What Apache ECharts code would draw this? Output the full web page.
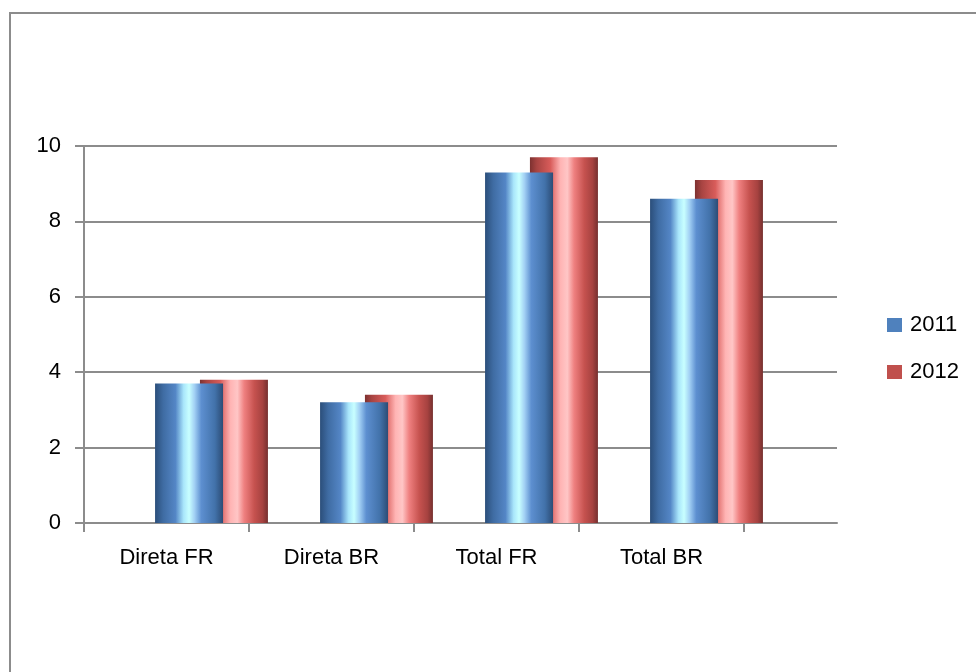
<!DOCTYPE html>
<html>
<head>
<meta charset="utf-8">
<script src="https://cdn.jsdelivr.net/npm/echarts@6/dist/echarts.min.js"></script>
<style>
  html, body { margin: 0; padding: 0; background: #fff; }
  #wrap { position: relative; width: 976px; height: 672px; overflow: hidden; }
  #frame { position: absolute; left: 9px; top: 12px; width: 1000px; height: 700px;
           border-left: 2px solid #8c8c8c; border-top: 2px solid #8c8c8c; }
  #main { position: absolute; left: 0; top: 0; width: 976px; height: 672px; }
</style>
</head>
<body>
<div id="wrap">
  <div id="frame"></div>
  <div id="main"></div>
</div>
<script>
// dados
var categories = ['Direta FR', 'Direta BR', 'Total FR', 'Total BR']
var values2011 = [3.7, 3.2, 9.3, 8.6]
var values2012 = [3.8, 3.4, 9.7, 9.1]
var seriesNames = ['2011', '2012']

var font = 'Liberation Sans'
var lineGray = '#8c8c8c'

// efeito cilindro
var blueFill = new echarts.graphic.LinearGradient(0, 0, 1, 0, [
  { offset: 0, color: '#2b4e7a' },
  { offset: 0.12, color: '#3f6ca3' },
  { offset: 0.3, color: '#5486c6' },
  { offset: 0.42, color: '#a9e6fb' },
  { offset: 0.5, color: '#c8ffff' },
  { offset: 0.58, color: '#a2d0f4' },
  { offset: 0.68, color: '#5d8fd0' },
  { offset: 0.88, color: '#4272aa' },
  { offset: 1, color: '#2c4c75' }
])
var redFill = new echarts.graphic.LinearGradient(0, 0, 1, 0, [
  { offset: 0, color: '#7d3130' },
  { offset: 0.1, color: '#a84442' },
  { offset: 0.3, color: '#d85c5a' },
  { offset: 0.45, color: '#ffb4b4' },
  { offset: 0.55, color: '#ffc6c6' },
  { offset: 0.65, color: '#ef8080' },
  { offset: 0.8, color: '#c6524f' },
  { offset: 0.92, color: '#a64240' },
  { offset: 1, color: '#76302f' }
])

var chart = echarts.init(document.getElementById('main'))
var option = {
  animation: false,
  textStyle: { fontFamily: font },
  legend: {
    orient: 'vertical',
    left: 882,
    top: 309,
    itemWidth: 15,
    itemHeight: 14,
    itemGap: 25,
    icon: 'rect',
    textStyle: { fontSize: 22, color: '#000', fontFamily: font, padding: [0, 0, 0, 3] },
    data: [
      { name: seriesNames[0], itemStyle: { color: '#4f81bd' } },
      { name: seriesNames[1], itemStyle: { color: '#c0504d' } }
    ]
  },
  grid: [
    // gridlines e eixo y
    { left: 84, right: 139, top: 146, bottom: 149 },
    // rotulos das categorias
    { left: 84, right: 232, top: 146, bottom: 149 },
    // barras (deslocadas pela perspectiva 3D)
    { left: 129, right: 187, top: 146, bottom: 149 }
  ],
  xAxis: [
    {
      gridIndex: 0, type: 'category', data: categories,
      axisLine: { show: true, lineStyle: { color: lineGray, width: 2 } },
      axisTick: { show: false }, axisLabel: { show: false }
    },
    {
      gridIndex: 1, type: 'category', data: categories,
      axisLine: { show: false },
      axisTick: { show: true, length: 9, lineStyle: { color: lineGray, width: 2 } },
      axisLabel: { show: true, fontSize: 22, color: '#000', margin: 24, fontFamily: font },
      splitLine: { show: false }
    },
    {
      gridIndex: 2, type: 'category', data: categories, show: false
    }
  ],
  yAxis: [
    {
      gridIndex: 0, type: 'value', min: 0, max: 10, interval: 2,
      axisLine: { show: true, lineStyle: { color: lineGray, width: 2 } },
      axisTick: { show: true, length: 9, lineStyle: { color: lineGray, width: 2 } },
      axisLabel: { fontSize: 22, color: '#000', margin: 23, fontFamily: font },
      splitLine: { show: true, lineStyle: { color: lineGray, width: 2 } }
    },
    { gridIndex: 1, type: 'value', min: 0, max: 10, show: false },
    { gridIndex: 2, type: 'value', min: 0, max: 10, show: false }
  ],
  series: [
    {
      name: seriesNames[0], type: 'bar', xAxisIndex: 2, yAxisIndex: 2,
      data: values2011, barWidth: 68, barGap: '-34%', z: 4,
      itemStyle: { color: blueFill }
    },
    {
      name: seriesNames[1], type: 'bar', xAxisIndex: 2, yAxisIndex: 2,
      data: values2012, barWidth: 68, barGap: '-34%', z: 3,
      itemStyle: { color: redFill }
    }
  ]
}
chart.setOption(option)
</script>
</body>
</html>
